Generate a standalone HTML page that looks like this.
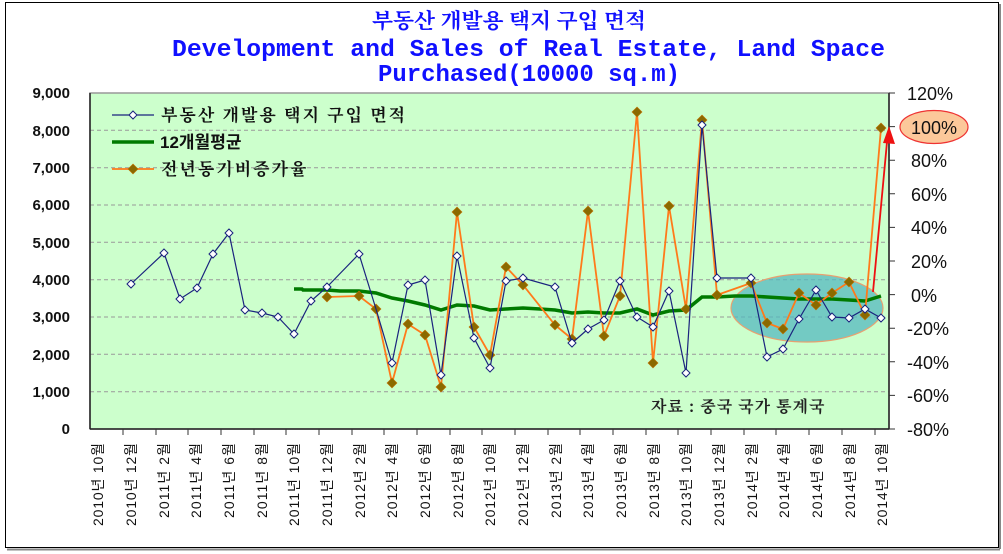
<!DOCTYPE html>
<html><head><meta charset="utf-8"><style>
body{margin:0;background:#fff;}
svg{display:block;}
</style></head><body>
<svg width="1003" height="554" xmlns="http://www.w3.org/2000/svg" font-family="Liberation Sans, Noto Sans CJK KR, sans-serif">
<rect x="0" y="0" width="1003" height="554" fill="#fff"/>
<rect x="5.5" y="2.5" width="993" height="545" fill="none" stroke="#000" stroke-width="1"/>
<line x1="1000" y1="4" x2="1000" y2="549" stroke="#888" stroke-width="2"/>
<line x1="7" y1="549.5" x2="1000" y2="549.5" stroke="#888" stroke-width="2"/>
<!-- titles -->
<g fill="#1010ff" font-weight="bold">
<text x="372" y="28" font-size="21" font-family="Noto Serif CJK SC, Noto Sans CJK KR, serif" textLength="274" lengthAdjust="spacingAndGlyphs">부동산 개발용 택지 구입 면적</text>
<text x="172" y="56" font-size="24" font-family="Liberation Mono, monospace" textLength="713" lengthAdjust="spacingAndGlyphs">Development and Sales of Real Estate, Land Space</text>
<text x="378" y="81" font-size="24" font-family="Liberation Mono, monospace" textLength="302" lengthAdjust="spacingAndGlyphs">Purchased(10000 sq.m)</text>
</g>
<!-- plot area -->
<rect x="90" y="93" width="799" height="336" fill="#ccffcc" stroke="#999" stroke-width="1.5"/>
<g stroke="#999" stroke-dasharray="4,3" stroke-width="1">
<line x1="90" x2="889" y1="130.3" y2="130.3"/><line x1="90" x2="889" y1="167.7" y2="167.7"/>
<line x1="90" x2="889" y1="205" y2="205"/><line x1="90" x2="889" y1="242.3" y2="242.3"/>
<line x1="90" x2="889" y1="279.7" y2="279.7"/><line x1="90" x2="889" y1="317" y2="317"/>
<line x1="90" x2="889" y1="354.3" y2="354.3"/><line x1="90" x2="889" y1="391.7" y2="391.7"/>
</g>
<line x1="90" y1="93" x2="90" y2="429" stroke="#222" stroke-width="1.5"/>
<line x1="90" y1="429" x2="889" y2="429" stroke="#222" stroke-width="1.5"/>
<line x1="889" y1="93" x2="889" y2="429" stroke="#222" stroke-width="1.5"/>
<g stroke="#333">
<path d="M123 429v6M156 429v6M188 429v6M221 429v6M254 429v6M286 429v6M319 429v6M352 429v6M384 429v6M417 429v6M450 429v6M482 429v6M515 429v6M548 429v6M580 429v6M613 429v6M646 429v6M678 429v6M711 429v6M744 429v6M776 429v6M809 429v6M842 429v6M875 429v6"/>
<path d="M889 93h6M889 126.6h6M889 160.2h6M889 193.8h6M889 227.4h6M889 261h6M889 294.6h6M889 328.2h6M889 361.8h6M889 395.4h6M889 429h6"/>
</g>
<!-- left axis labels -->
<g font-size="15" font-weight="bold" fill="#111" text-anchor="end">
<text x="70" y="98">9,000</text><text x="70" y="136">8,000</text><text x="70" y="173">7,000</text>
<text x="70" y="210">6,000</text><text x="70" y="248">5,000</text><text x="70" y="285">4,000</text>
<text x="70" y="322">3,000</text><text x="70" y="360">2,000</text><text x="70" y="397">1,000</text>
<text x="70" y="434">0</text>
</g>
<!-- right axis labels -->
<g font-size="18" fill="#111">
<text x="907" y="100">120%</text>
<text x="911" y="167">80%</text><text x="911" y="201">60%</text><text x="911" y="234">40%</text>
<text x="911" y="268">20%</text><text x="911" y="302">0%</text>
<text x="907" y="335">-20%</text><text x="907" y="369">-40%</text><text x="907" y="402">-60%</text><text x="907" y="436">-80%</text>
</g>
<ellipse cx="934" cy="127" rx="34" ry="16.5" fill="#fcc89a" stroke="#ee3333" stroke-width="1.2"/>
<text x="934" y="134" font-size="18" fill="#111" text-anchor="middle">100%</text>
<!-- x labels -->
<g font-size="14" fill="#111" text-anchor="end" lengthAdjust="spacingAndGlyphs">
<text transform="translate(103,443) rotate(-90)" textLength="83">2010년 10월</text>
<text transform="translate(136,443) rotate(-90)" textLength="83">2010년 12월</text>
<text transform="translate(169,443) rotate(-90)" textLength="75">2011년 2월</text>
<text transform="translate(201,443) rotate(-90)" textLength="75">2011년 4월</text>
<text transform="translate(234,443) rotate(-90)" textLength="75">2011년 6월</text>
<text transform="translate(267,443) rotate(-90)" textLength="75">2011년 8월</text>
<text transform="translate(299,443) rotate(-90)" textLength="83">2011년 10월</text>
<text transform="translate(332,443) rotate(-90)" textLength="83">2011년 12월</text>
<text transform="translate(365,443) rotate(-90)" textLength="75">2012년 2월</text>
<text transform="translate(397,443) rotate(-90)" textLength="75">2012년 4월</text>
<text transform="translate(430,443) rotate(-90)" textLength="75">2012년 6월</text>
<text transform="translate(463,443) rotate(-90)" textLength="75">2012년 8월</text>
<text transform="translate(495,443) rotate(-90)" textLength="83">2012년 10월</text>
<text transform="translate(528,443) rotate(-90)" textLength="83">2012년 12월</text>
<text transform="translate(561,443) rotate(-90)" textLength="75">2013년 2월</text>
<text transform="translate(593,443) rotate(-90)" textLength="75">2013년 4월</text>
<text transform="translate(626,443) rotate(-90)" textLength="75">2013년 6월</text>
<text transform="translate(659,443) rotate(-90)" textLength="75">2013년 8월</text>
<text transform="translate(691,443) rotate(-90)" textLength="83">2013년 10월</text>
<text transform="translate(724,443) rotate(-90)" textLength="83">2013년 12월</text>
<text transform="translate(757,443) rotate(-90)" textLength="75">2014년 2월</text>
<text transform="translate(789,443) rotate(-90)" textLength="75">2014년 4월</text>
<text transform="translate(822,443) rotate(-90)" textLength="75">2014년 6월</text>
<text transform="translate(855,443) rotate(-90)" textLength="75">2014년 8월</text>
<text transform="translate(887,443) rotate(-90)" textLength="83">2014년 10월</text>
</g>
<!-- ellipse highlight -->
<ellipse cx="807" cy="308" rx="76" ry="34" fill="#55b8c0" fill-opacity="0.75" stroke="#e8a070" stroke-width="1.2"/>
<!-- green avg -->
<polyline fill="none" stroke="#007a00" stroke-width="3.5" points="294,289 302,289 303,290 327,290 340,291 359,291 376,293 392,298 408,301 425,305 441,310 457,305 474,306 490,310 506,309 523,308 540,309 555,310 572,313 588,312 604,313 620,313 637,309 653,315 669,311 686,310 702,297 717,297 735,296 751,296 767,297 783,298 799,299 816,299 832,299 849,300 865,301 881,296"/>
<!-- orange yoy -->
<polyline fill="none" stroke="#ff7a1a" stroke-width="1.8" points="327,297 359,296 376,309 392,383 408,324 425,335 441,387 457,212 474,327 490,355 506,267 523,285 555,325 572,339 588,211 604,336 620,296 637,112 653,363 669,206 686,309 702,120 717,295 751,283 767,323 783,329 799,293 816,305 832,293 849,282 865,315 881,128"/>
<g fill="#8a6a00" stroke="#c07000" stroke-width="0.6">
<path d="M327 292l5 5-5 5-5-5zM359 291l5 5-5 5-5-5zM376 304l5 5-5 5-5-5zM392 378l5 5-5 5-5-5zM408 319l5 5-5 5-5-5zM425 330l5 5-5 5-5-5zM441 382l5 5-5 5-5-5zM457 207l5 5-5 5-5-5zM474 322l5 5-5 5-5-5zM490 350l5 5-5 5-5-5zM506 262l5 5-5 5-5-5zM523 280l5 5-5 5-5-5zM555 320l5 5-5 5-5-5zM572 334l5 5-5 5-5-5zM588 206l5 5-5 5-5-5zM604 331l5 5-5 5-5-5zM620 291l5 5-5 5-5-5zM637 107l5 5-5 5-5-5zM653 358l5 5-5 5-5-5zM669 201l5 5-5 5-5-5zM686 304l5 5-5 5-5-5zM702 115l5 5-5 5-5-5zM717 290l5 5-5 5-5-5zM751 278l5 5-5 5-5-5zM767 318l5 5-5 5-5-5zM783 324l5 5-5 5-5-5zM799 288l5 5-5 5-5-5zM816 300l5 5-5 5-5-5zM832 288l5 5-5 5-5-5zM849 277l5 5-5 5-5-5zM865 310l5 5-5 5-5-5zM881 123l5 5-5 5-5-5z"/>
</g>
<!-- blue series -->
<polyline fill="none" stroke="#1a237e" stroke-width="1.2" points="131,284 164,253 180,299 197,288 213,254 229,233 245,310 262,313 278,317 294,334 311,301 327,287 359,254 376,309 392,363 408,285 425,280 441,375 457,256 474,338 490,368 506,281 523,278 555,287 572,343 588,329 604,320 620,281 637,317 653,327 669,291 686,373 702,125 717,278 751,278 767,357 783,349 799,319 816,290 832,317 849,318 865,309 881,318"/>
<g fill="#fff" stroke="#1a237e" stroke-width="1">
<path d="M131 280l4 4-4 4-4-4zM164 249l4 4-4 4-4-4zM180 295l4 4-4 4-4-4zM197 284l4 4-4 4-4-4zM213 250l4 4-4 4-4-4zM229 229l4 4-4 4-4-4zM245 306l4 4-4 4-4-4zM262 309l4 4-4 4-4-4zM278 313l4 4-4 4-4-4zM294 330l4 4-4 4-4-4zM311 297l4 4-4 4-4-4zM327 283l4 4-4 4-4-4zM359 250l4 4-4 4-4-4zM392 359l4 4-4 4-4-4zM408 281l4 4-4 4-4-4zM425 276l4 4-4 4-4-4zM441 371l4 4-4 4-4-4zM457 252l4 4-4 4-4-4zM474 334l4 4-4 4-4-4zM490 364l4 4-4 4-4-4zM506 277l4 4-4 4-4-4zM523 274l4 4-4 4-4-4zM555 283l4 4-4 4-4-4zM572 339l4 4-4 4-4-4zM588 325l4 4-4 4-4-4zM604 316l4 4-4 4-4-4zM620 277l4 4-4 4-4-4zM637 313l4 4-4 4-4-4zM653 323l4 4-4 4-4-4zM669 287l4 4-4 4-4-4zM686 369l4 4-4 4-4-4zM702 121l4 4-4 4-4-4zM717 274l4 4-4 4-4-4zM751 274l4 4-4 4-4-4zM767 353l4 4-4 4-4-4zM783 345l4 4-4 4-4-4zM799 315l4 4-4 4-4-4zM816 286l4 4-4 4-4-4zM832 313l4 4-4 4-4-4zM849 314l4 4-4 4-4-4zM865 305l4 4-4 4-4-4zM881 314l4 4-4 4-4-4z"/>
</g>
<!-- red arrow -->
<line x1="873" y1="292" x2="887" y2="142" stroke="#ee1111" stroke-width="1.8"/>
<path d="M889 126l6 18-12 -1z" fill="#ee1111"/>
<!-- legend -->
<line x1="112" y1="115" x2="154" y2="115" stroke="#1a237e" stroke-width="1.2"/>
<path d="M133 111l4 4-4 4-4-4z" fill="#fff" stroke="#1a237e"/>
<line x1="112" y1="142" x2="154" y2="142" stroke="#007a00" stroke-width="3.5"/>
<line x1="112" y1="169" x2="154" y2="169" stroke="#ff7a1a" stroke-width="1.8"/>
<path d="M133 164l5 5-5 5-5-5z" fill="#8a6a00" stroke="#c07000" stroke-width="0.6"/>
<g font-size="17" font-weight="bold" fill="#111" font-family="Noto Serif CJK SC, Noto Sans CJK KR, serif">
<text x="161" y="121" letter-spacing="2">부동산 개발용 택지 구입 면적</text>
<text x="160" y="148" font-family="Liberation Sans, Noto Sans CJK KR, sans-serif">12개월평균</text>
<text x="161" y="175" letter-spacing="2">전년동기비증가율</text>
</g>
<text x="651" y="412" font-size="16" font-weight="bold" fill="#222" font-family="Noto Serif CJK SC, Noto Sans CJK KR, serif" letter-spacing="1">자료 : 중국 국가 통계국</text>
</svg>
</body></html>
